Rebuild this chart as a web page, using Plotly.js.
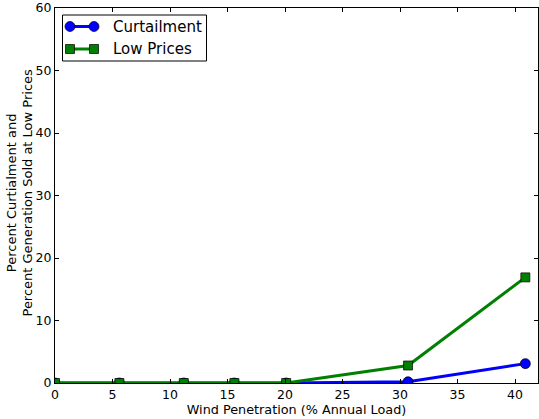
<!DOCTYPE html>
<html>
<head>
<meta charset="utf-8">
<script src="https://cdn.plot.ly/plotly-3.0.1.min.js"></script>
<style>
  html, body { margin: 0; padding: 0; background: #fff; }
  #chart { width: 539px; height: 419px; }
</style>
</head>
<body>
<div id="chart"></div>
<script>
// Wind penetration levels (% of annual load) and the resulting shares
const windPenetration = [0, 5.6, 11.2, 15.6, 20.1, 30.7, 40.9];
const curtailment = [0, 0, 0, 0, 0, 0.2, 3.1];
const lowPrices = [0, 0, 0, 0, 0, 2.8, 16.9];

const seriesNames = ['Curtailment', 'Low Prices'];
const xTicks = [0, 5, 10, 15, 20, 25, 30, 35, 40];
const yTicks = [0, 10, 20, 30, 40, 50, 60];

const FONT = 'DejaVu Sans, sans-serif';
const BLUE = '#0000ff';
const GREEN = '#008000';

// plot-area geometry in pixels
const M = { l: 55, r: 1, t: 8, b: 36 };
const W = 539, H = 419;
const PW = W - M.l - M.r, PH = H - M.t - M.b;
const px = x => (x - M.l) / PW;
const py = y => (H - M.b - y) / PH;

const traces = [
  {
    x: windPenetration, y: curtailment, name: seriesNames[0],
    mode: 'lines+markers', type: 'scatter',
    line: { color: BLUE, width: 3 },
    marker: { symbol: 'circle', size: 10, color: BLUE, line: { color: '#000', width: 0.7 } }
  },
  {
    x: windPenetration, y: lowPrices, name: seriesNames[1],
    mode: 'lines+markers', type: 'scatter',
    line: { color: GREEN, width: 3 },
    marker: { symbol: 'square', size: 9, color: GREEN, line: { color: '#000', width: 0.7 } }
  }
];

// legend drawn as marker-line-marker handles in a framed box
const legendShapes = [
  { type: 'rect', xref: 'paper', yref: 'paper', x0: px(62.5), x1: px(206.5), y0: py(61), y1: py(15),
    line: { color: '#000', width: 1 }, fillcolor: '#fff', layer: 'above' }
];
const legendAnn = [];
const rows = [
  { y: 26.5, color: BLUE, kind: 'circle', label: seriesNames[0] },
  { y: 49, color: GREEN, kind: 'rect', label: seriesNames[1] }
];
rows.forEach(r => {
  legendShapes.push({ type: 'line', xref: 'paper', yref: 'paper', x0: px(70), x1: px(94), y0: py(r.y), y1: py(r.y),
    line: { color: r.color, width: 3 }, layer: 'above' });
  [70, 94].forEach(cx => {
    const s = r.kind === 'circle' ? 5 : 4.5;
    legendShapes.push({ type: r.kind, xref: 'paper', yref: 'paper', xsizemode: 'pixel', ysizemode: 'pixel',
      xanchor: px(cx), yanchor: py(r.y), x0: -s, x1: s, y0: -s, y1: s,
      fillcolor: r.color, line: { color: '#000', width: 0.7 }, layer: 'above' });
  });
  legendAnn.push({ xref: 'paper', yref: 'paper', x: px(111), y: py(r.y), xanchor: 'left', yanchor: 'middle',
    text: r.label, showarrow: false, font: { family: FONT, size: 15, color: '#000' } });
});

const axisCommon = {
  showgrid: false, zeroline: false,
  showline: true, linecolor: '#000', linewidth: 1, mirror: 'ticks',
  ticks: 'inside', ticklen: 4, tickwidth: 1, tickcolor: '#000',
  tickfont: { family: FONT, size: 12.5, color: '#000' }
};

const layout = {
  width: W, height: H,
  margin: M,
  paper_bgcolor: '#fff', plot_bgcolor: '#fff',
  showlegend: false,
  font: { family: FONT, color: '#000' },
  xaxis: Object.assign({}, axisCommon, {
    range: [0, 42], tickvals: xTicks, ticktext: xTicks.map(String),
    title: { text: 'Wind Penetration (% Annual Load)', font: { family: FONT, size: 12.8, color: '#000' }, standoff: 0 }
  }),
  yaxis: Object.assign({}, axisCommon, {
    range: [0, 60], tickvals: yTicks, ticktext: yTicks.map(String)
  }),
  shapes: legendShapes,
  annotations: legendAnn.concat([{
    xref: 'paper', yref: 'paper', x: 0, y: 0.5, xanchor: 'right', yanchor: 'middle', xshift: -18, yshift: 3,
    textangle: -90, showarrow: false,
    text: 'Percent Curtialment and<br>Percent Generation Sold at Low Prices',
    font: { family: FONT, size: 13, color: '#000' }
  }])
};

Plotly.newPlot('chart', traces, layout, { displayModeBar: false, staticPlot: true });
</script>
</body>
</html>
